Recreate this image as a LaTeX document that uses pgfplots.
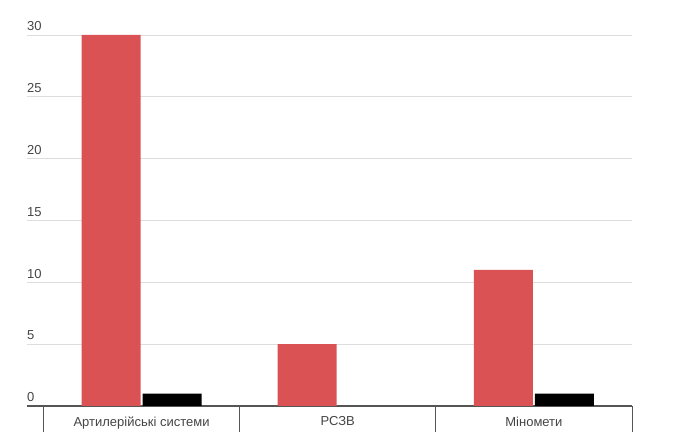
\documentclass[border=0pt]{standalone}
\usepackage{pgfplots}
\pgfplotsset{compat=1.18}
\usepackage{fontspec}
\setmainfont{Liberation Sans}
\definecolor{barred}{HTML}{DB5254}
\definecolor{gridgray}{HTML}{DDDDDD}
\definecolor{axisgray}{HTML}{555555}
\definecolor{labelgray}{HTML}{444444}

\begin{document}
\begin{tikzpicture}[x=1pt,y=1pt]
\begin{axis}[
    scale only axis,
    width=605pt, height=371pt,
    xmin=-0.584, xmax=2.5,
    ymin=0, ymax=30,
    ybar=2pt, bar width=59pt,
    axis x line*=bottom, axis y line*=left,
    x axis line style={axisgray, line width=1.6pt, -},
    y axis line style={draw=none},
    xtick={0,1,2},
    xticklabels={Артилерійські системи, РСЗВ, Міномети},
    major x tick style={draw=none},
    minor xtick={-0.5,0.5,1.5,2.5},
    minor x tick style={axisgray, line width=0.8pt},
    xtick align=outside,
    minor tick length=26pt,
    xticklabel style={font=\fontsize{13}{15}\selectfont, text=labelgray, yshift=-3pt},
    ytick={0,5,...,30},
    ymajorgrids,
    grid style={gridgray, line width=0.8pt},
    ytick style={draw=none},
    yticklabel style={anchor=south west, inner sep=0pt, yshift=4pt, xshift=0pt,
        font=\fontsize{13}{15}\selectfont, text=labelgray},
    /pgf/number format/assume math mode=true,
    clip=false,
]
\addplot[draw=none, fill=barred] coordinates {(0,30) (1,5) (2,11)};
\addplot[draw=none, fill=black] coordinates {(0,1) (2,1)};
\end{axis}
\pgfresetboundingbox
\path (-27,-40) rectangle (669,406);
\end{tikzpicture}
\end{document}
